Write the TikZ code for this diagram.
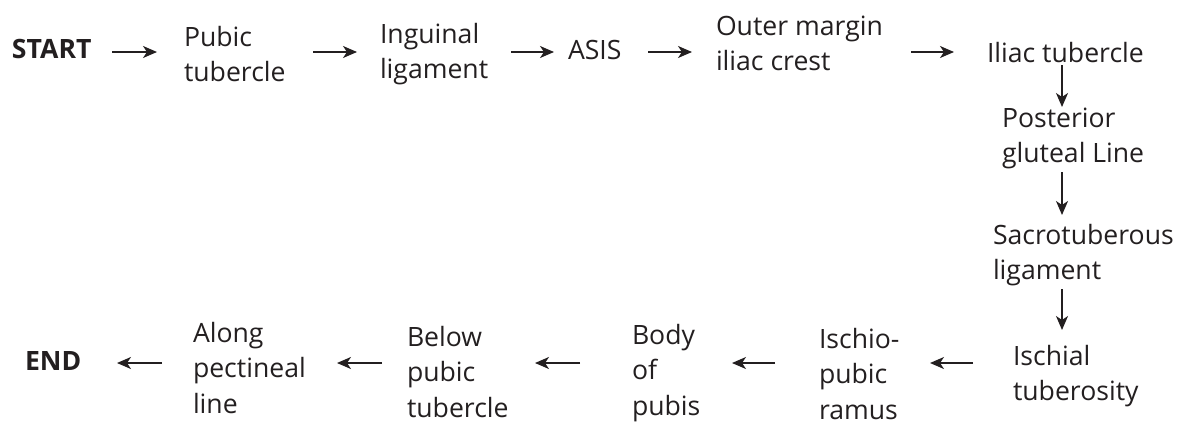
\documentclass[tikz,border=0pt]{standalone}
\usepackage{fontspec}
\setmainfont{Open Sans}
\usetikzlibrary{arrows.meta}
\definecolor{ink}{RGB}{35,31,32}
\newcommand{\stk}[1]{\vtop{\baselineskip=35.5pt\lineskiplimit=-100pt\halign{##\hfil\cr#1\crcr}}}
\begin{document}
\begin{tikzpicture}[x=1pt,y=-1pt,
  lbl/.style={anchor=base west, inner sep=0pt, outer sep=0pt, text=ink, font=\fontsize{26.6}{35.5}\selectfont},
  bold/.style={lbl, font=\fontsize{26.6}{35.5}\selectfont\bfseries},
  arr/.style={draw=ink, line width=1.7pt, -{Stealth[length=14pt,width=12pt,inset=4pt]}}]
\useasboundingbox (0,0) rectangle (1186,423);
\coordinate (r1) at (0,52);
\coordinate (r2) at (0,363);
\coordinate (cx) at (1062,0);
% top row
\node[bold] (start) at (12,58) {START};
\node[lbl] (pubic) at (184,46) {\stk{Pubic\cr tubercle}};
\node[lbl] (inguinal) at (380,43) {\stk{Inguinal\cr ligament}};
\node[lbl] (asis) at (568,59) {ASIS};
\node[lbl] (outer) at (716,35) {\stk{Outer margin\cr iliac crest}};
\node[lbl] (iliac) at (987,62) {Iliac tubercle};
% column
\node[lbl] (post) at (1002,127) {\stk{Posterior\cr gluteal Line}};
\node[lbl] (sacro) at (993,244) {\stk{Sacrotuberous\cr ligament}};
\node[lbl] (ischial) at (1013,365) {\stk{Ischial\cr tuberosity}};
% bottom row
\node[lbl] (ischio) at (819,348) {\stk{Ischio-\cr pubic\cr ramus}};
\node[lbl] (body) at (632,344) {\stk{Body\cr of\cr pubis}};
\node[lbl] (below) at (407,346) {\stk{Below\cr pubic\cr tubercle}};
\node[lbl] (along) at (193,342) {\stk{Along\cr pectineal\cr line}};
\node[bold] (end) at (25,370) {END};
% top row arrows
\draw[arr, shorten <=100pt, shorten >=27pt] (start.west |- r1) -- (pubic.west |- r1);
\draw[arr, shorten <=129pt, shorten >=23pt] (pubic.west |- r1) -- (inguinal.west |- r1);
\draw[arr, shorten <=131pt, shorten >=14pt] (inguinal.west |- r1) -- (asis.west |- r1);
\draw[arr, shorten <=80pt, shorten >=24pt] (asis.west |- r1) -- (outer.west |- r1);
\draw[arr, shorten <=195pt, shorten >=33pt] (outer.west |- r1) -- (iliac.west |- r1);
% column arrows
\draw[arr, shorten <=3pt, shorten >=20pt] (iliac.base -| cx) -- (post.base -| cx);
\draw[arr, shorten <=45pt, shorten >=29pt] (post.base -| cx) -- (sacro.base -| cx);
\draw[arr, shorten <=45pt, shorten >=35pt] (sacro.base -| cx) -- (ischial.base -| cx);
% bottom row arrows
\draw[arr, shorten <=40pt, shorten >=111pt] (ischial.west |- r2) -- (ischio.west |- r2);
\draw[arr, shorten <=44pt, shorten >=100pt] (ischio.west |- r2) -- (body.west |- r2);
\draw[arr, shorten <=52pt, shorten >=128pt] (body.west |- r2) -- (below.west |- r2);
\draw[arr, shorten <=25pt, shorten >=144pt] (below.west |- r2) -- (along.west |- r2);
\draw[arr, shorten <=31pt, shorten >=92pt] (along.west |- r2) -- (end.west |- r2);
\end{tikzpicture}
\end{document}
